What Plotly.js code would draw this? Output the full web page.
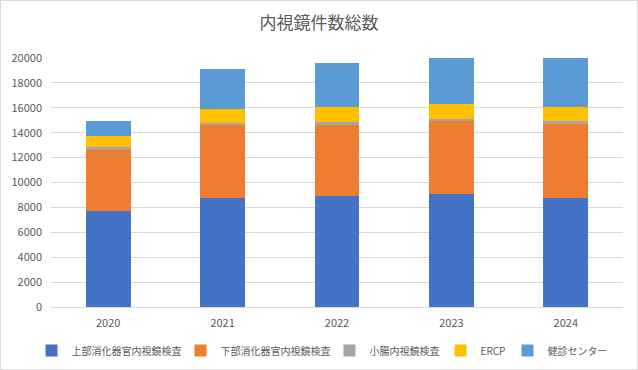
<!DOCTYPE html>
<html><head><meta charset="utf-8">
<script src="https://cdn.plot.ly/plotly-3.0.1.min.js"></script>
<style>html,body{margin:0;padding:0;background:#fff}#c{width:636px;height:368px;border:1px solid #d9d9d9}</style>
</head><body><div id="c"></div>
<script>
const years = ['2020','2021','2022','2023','2024'];
const seriesNames = ['上部消化器官内視鏡検査','下部消化器官内視鏡検査','小腸内視鏡検査','ERCP','健診センター'];
const upperGI = [7700, 8780, 8880, 9100, 8780];
const lowerGI = [4950, 5840, 5760, 5810, 5940];
const smallIntestine = [170, 180, 240, 190, 220];
const ercp = [940, 1100, 1180, 1170, 1120];
const kenshin = [1180, 3180, 3540, 3730, 3940];
const colors = ['#4472c4','#ed7d31','#a5a5a5','#ffc000','#5b9bd5'];
const legendWidths = [104, 104, 66, 22, 54];
const values = [upperGI, lowerGI, smallIntestine, ercp, kenshin];
const traces = values.map((v,i)=>({type:'bar', x:years, y:v, name:seriesNames[i], marker:{color:colors[i]}, legendwidth:legendWidths[i], hoverinfo:'none'}));
const layout = {
  width:636, height:368, barmode:'stack', bargap:0.61,
  margin:{l:50,r:14,t:57,b:62},
  paper_bgcolor:'#fff', plot_bgcolor:'#fff',
  font:{family:'"Noto Sans CJK JP", "Noto Sans", sans-serif', color:'#595959', size:11},
  title:{text:'内視鏡件数総数', x:0.5, xanchor:'center', y:0.94, yanchor:'middle', font:{size:17, color:'#595959'}},
  xaxis:{type:'category', showgrid:false, showline:true, linecolor:'#d9d9d9', ticks:'', ticklabelstandoff:6, tickfont:{size:11,color:'#595959'}},
  yaxis:{range:[0,20000], dtick:2000, tickformat:'d', showgrid:true, gridcolor:'#d9d9d9', zeroline:false, showline:false, ticks:'', ticklabelstandoff:8, tickfont:{size:11,color:'#595959'}},
  showlegend:true,
  legend:{orientation:'h', xref:'container', yref:'container', x:0.5, xanchor:'center', y:0.05, yanchor:'middle', font:{size:10,color:'#595959'}, traceorder:'normal', itemwidth:30, tracegroupgap:0}
};
Plotly.newPlot('c', traces, layout, {staticPlot:true});
</script></body></html>
